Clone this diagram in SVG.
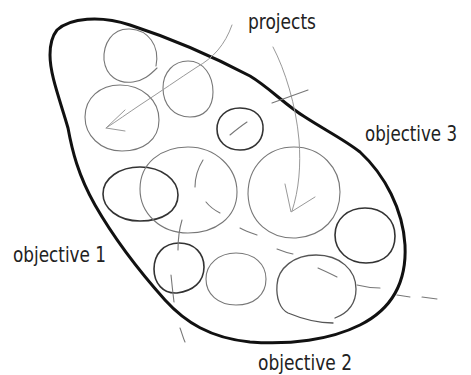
<svg xmlns="http://www.w3.org/2000/svg" width="471" height="375" viewBox="0 0 471 375">
<style>
.lbl{font-family:"DejaVu Sans Condensed","Liberation Sans",Arial,sans-serif;font-size:21px;fill:#222}
.outline{fill:none;stroke:#111;stroke-width:3;stroke-linecap:round;stroke-linejoin:round}
.pd{fill:none;stroke:#333;stroke-width:1.6;stroke-linecap:round}
.pg{fill:none;stroke:#777;stroke-width:1.1;stroke-linecap:round}
.ar{fill:none;stroke:#999;stroke-width:1;stroke-linecap:round}
.ds{fill:none;stroke:#777;stroke-width:1.1;stroke-linecap:round}
</style>
<rect width="471" height="375" fill="#fff"/>
<g id="area">
<path class="outline" d="M57,30 C70,18 100,15 130,25 C170,38 210,55 250,76 C270,88 285,105 305,117 C325,130 345,140 360,152 C385,175 403,210 405,245 C407,285 390,310 360,325 C330,340 290,345 250,342 C210,338 185,322 165,300 C140,272 115,240 95,205 C78,175 72,150 68,128 C60,100 50,75 50,55 C50,42 53,35 57,30 Z"/>
</g>
<g id="project-1"><path class="pg" d="M156,66 C160,45 148,30 130,29 C112,28 103,44 104,60 C106,76 118,84 133,82 C143,81 150,75 157,68"/></g>
<g id="project-2"><path class="pg" d="M188,61 C204,61 213,76 213,92 C213,108 204,117 190,117 C174,117 163,105 163,88 C163,72 174,61 188,61 Z"/></g>
<g id="project-3"><path class="pg" d="M120,85 C142,85 159,100 159,120 C159,140 143,151 122,151 C100,151 85,135 85,117 C85,98 100,85 120,85 Z"/></g>
<g id="project-4"><path class="pd" d="M240,108 C256,108 264,118 263,130 C262,143 252,150 240,150 C226,150 217,141 217,129 C217,117 226,108 240,108 Z"/><path class="pg" d="M230,135 C236,130 241,126 247,122"/></g>
<g id="project-5"><path class="pd" d="M140,167 C162,167 178,180 178,195 C178,211 163,221 140,221 C118,221 103,208 103,194 C103,178 120,167 140,167 Z"/></g>
<g id="project-6"><path class="pg" d="M188,147 C216,147 237,168 237,192 C237,218 215,233 188,233 C160,233 140,213 140,189 C140,164 160,147 188,147 Z"/><path class="pg" d="M203,160 C198,168 195,178 195,187"/><path class="pg" d="M206,202 C210,207 214,210 220,213"/></g>
<g id="project-7"><path class="pg" d="M294,147 C321,147 340,168 340,192 C340,218 323,236 296,238 C270,239 249,222 248,194 C248,167 267,147 294,147 Z"/></g>
<g id="project-8"><path class="pd" d="M365,208 C383,208 395,220 395,236 C395,252 385,263 366,263 C348,263 335,251 335,235 C335,219 348,208 365,208 Z"/></g>
<g id="project-9"><path class="pd" d="M179,243 C195,243 204,254 204,267 C204,282 193,291 177,293 C163,294 154,283 154,269 C154,254 164,243 179,243 Z"/></g>
<g id="project-10"><path class="pg" d="M236,253 C254,253 266,264 266,279 C266,295 254,305 236,305 C218,305 206,294 206,279 C206,264 219,253 236,253 Z"/></g>
<g id="project-11"><path class="pd" style="stroke:#555;stroke-width:1.3" d="M316,255 C340,255 356,270 356,289 C356,303 348,313 335,318 M333,323 C318,323 300,318 288,313 C280,309 276,298 277,285 C278,268 294,255 316,255"/></g>
<g id="connectors">
<path class="ar" d="M232,25 C225,45 213,58 197,67 C180,78 160,92 140,105 C128,113 117,121 106,128"/>
<path class="ar" d="M125,110 L106,128 L125,131"/>
<path class="ar" d="M273,47 C285,70 296,105 299,140 C301,165 299,190 292,211"/>
<path class="ar" d="M285,184 L291,212 L315,197"/>
<path class="ds" d="M272,103 L308,90"/>
<path class="ds" d="M182,220 C179,230 178,240 178,250"/>
<path class="ds" d="M171,275 C172,285 173,294 174,302"/>
<path class="ds" d="M180,328 C182,333 183,338 185,342"/>
<path class="ds" d="M240,228 C245,231 251,233 257,235"/>
<path class="ds" d="M277,249 C282,251 288,253 293,254"/>
<path class="ds" d="M318,268 C325,271 331,274 337,277"/>
<path class="ds" d="M357,285 C365,287 372,288 380,288"/>
<path class="ds" d="M397,295 L410,297"/>
<path class="ds" d="M422,297 L437,299"/>
</g>
<g id="labels">
<text class="lbl" x="248" y="29" textLength="68" lengthAdjust="spacingAndGlyphs">projects</text>
<text class="lbl" x="365" y="141" textLength="92" lengthAdjust="spacingAndGlyphs">objective 3</text>
<text class="lbl" x="13" y="262" textLength="93" lengthAdjust="spacingAndGlyphs">objective 1</text>
<text class="lbl" x="258" y="370" textLength="94" lengthAdjust="spacingAndGlyphs">objective 2</text>
</g>
</svg>
